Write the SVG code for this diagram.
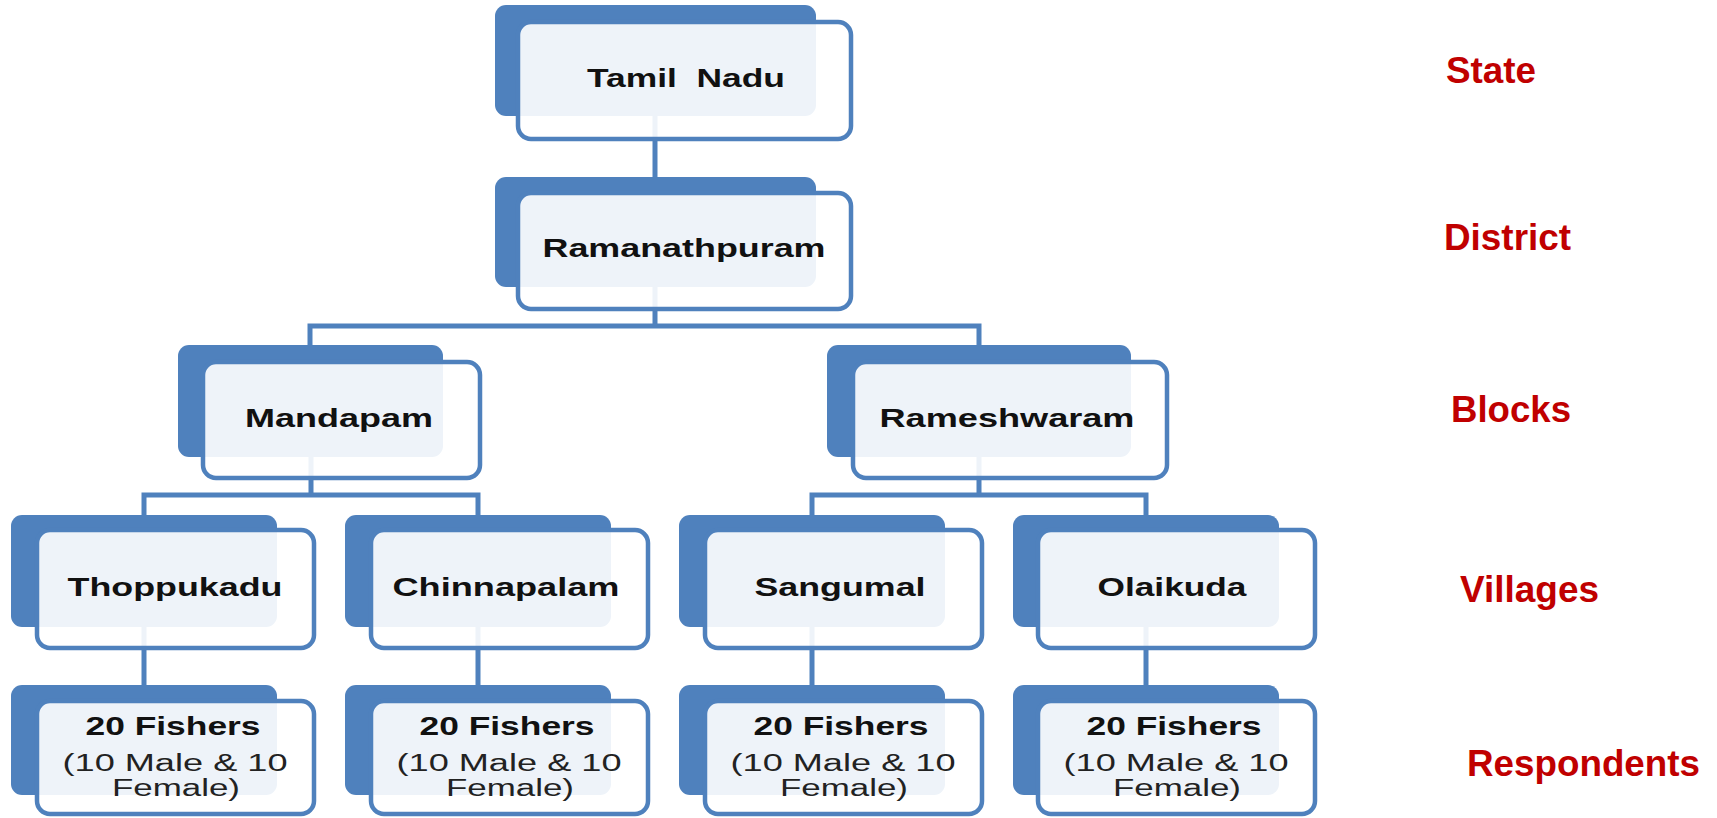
<svg xmlns="http://www.w3.org/2000/svg" width="1717" height="818" viewBox="0 0 1717 818">
<style>
.back{fill:#4F81BD}
.front{fill:#fff;fill-opacity:0.9;stroke:#4F81BD;stroke-width:4.5}
.conn{fill:none;stroke:#4F81BD;stroke-width:5}
.t{font-family:"Liberation Sans",Arial,sans-serif;font-weight:bold;font-size:26px;fill:#111;text-anchor:middle;white-space:pre}
.rb{font-family:"Liberation Sans",Arial,sans-serif;font-weight:bold;font-size:25px;fill:#111;text-anchor:middle}
.rn{font-family:"Liberation Sans",Arial,sans-serif;font-size:23px;fill:#222;text-anchor:middle}
.lab{font-family:"Liberation Sans",Arial,sans-serif;font-weight:bold;font-size:37px;fill:#C00000}
</style>
<rect width="1717" height="818" fill="#fff"/>
<g id="connectors">
<path class="conn" d="M655 110 V177"/>
<path class="conn" d="M655 280 V326 M310 345 V326 H979 V345"/>
<path class="conn" d="M311 450 V495 M144 515 V495 H478 V515"/>
<path class="conn" d="M979 450 V495 M812 515 V495 H1146 V515"/>
<path class="conn" d="M144 620 V685 M478 620 V685 M812 620 V685 M1146 620 V685"/>
</g>
<g id="n-tamilnadu">
<rect class="back" x="495" y="5" width="321" height="111" rx="11"/>
<rect class="front" x="518" y="22" width="333" height="117" rx="13"/>
<text class="t" x="686" y="87" textLength="198" lengthAdjust="spacingAndGlyphs" xml:space="preserve">Tamil  Nadu</text>
</g>
<g id="n-ramanathpuram">
<rect class="back" x="495" y="177" width="321" height="110" rx="11"/>
<rect class="front" x="518" y="193" width="333" height="116" rx="13"/>
<text class="t" x="684" y="257" textLength="283" lengthAdjust="spacingAndGlyphs">Ramanathpuram</text>
</g>
<g id="n-mandapam">
<rect class="back" x="178" y="345" width="265" height="112" rx="11"/>
<rect class="front" x="203" y="362" width="277" height="116" rx="13"/>
<text class="t" x="339" y="427" textLength="188" lengthAdjust="spacingAndGlyphs">Mandapam</text>
</g>
<g id="n-rameshwaram">
<rect class="back" x="827" y="345" width="304" height="112" rx="11"/>
<rect class="front" x="853" y="362" width="314" height="116" rx="13"/>
<text class="t" x="1007" y="427" textLength="255" lengthAdjust="spacingAndGlyphs">Rameshwaram</text>
</g>
<g id="n-thoppukadu">
<rect class="back" x="11" y="515" width="266" height="112" rx="11"/>
<rect class="front" x="37" y="530" width="277" height="118" rx="13"/>
<text class="t" x="175" y="596" textLength="215" lengthAdjust="spacingAndGlyphs">Thoppukadu</text>
</g>
<g id="n-chinnapalam">
<rect class="back" x="345" y="515" width="266" height="112" rx="11"/>
<rect class="front" x="371" y="530" width="277" height="118" rx="13"/>
<text class="t" x="506" y="596" textLength="227" lengthAdjust="spacingAndGlyphs">Chinnapalam</text>
</g>
<g id="n-sangumal">
<rect class="back" x="679" y="515" width="266" height="112" rx="11"/>
<rect class="front" x="705" y="530" width="277" height="118" rx="13"/>
<text class="t" x="840" y="596" textLength="171" lengthAdjust="spacingAndGlyphs">Sangumal</text>
</g>
<g id="n-olaikuda">
<rect class="back" x="1013" y="515" width="266" height="112" rx="11"/>
<rect class="front" x="1038" y="530" width="277" height="118" rx="13"/>
<text class="t" x="1172" y="596" textLength="149" lengthAdjust="spacingAndGlyphs">Olaikuda</text>
</g>
<g id="n-resp1">
<rect class="back" x="11" y="685" width="266" height="110" rx="11"/>
<rect class="front" x="37" y="701" width="277" height="113" rx="13"/>
<text class="rb" x="173" y="735" textLength="175" lengthAdjust="spacingAndGlyphs">20 Fishers</text>
<text class="rn" x="175" y="771" textLength="225" lengthAdjust="spacingAndGlyphs">(10 Male &amp; 10</text>
<text class="rn" x="176" y="796" textLength="128" lengthAdjust="spacingAndGlyphs">Female)</text>
</g>
<g id="n-resp2">
<rect class="back" x="345" y="685" width="266" height="110" rx="11"/>
<rect class="front" x="371" y="701" width="277" height="113" rx="13"/>
<text class="rb" x="507" y="735" textLength="175" lengthAdjust="spacingAndGlyphs">20 Fishers</text>
<text class="rn" x="509" y="771" textLength="225" lengthAdjust="spacingAndGlyphs">(10 Male &amp; 10</text>
<text class="rn" x="510" y="796" textLength="128" lengthAdjust="spacingAndGlyphs">Female)</text>
</g>
<g id="n-resp3">
<rect class="back" x="679" y="685" width="266" height="110" rx="11"/>
<rect class="front" x="705" y="701" width="277" height="113" rx="13"/>
<text class="rb" x="841" y="735" textLength="175" lengthAdjust="spacingAndGlyphs">20 Fishers</text>
<text class="rn" x="843" y="771" textLength="225" lengthAdjust="spacingAndGlyphs">(10 Male &amp; 10</text>
<text class="rn" x="844" y="796" textLength="128" lengthAdjust="spacingAndGlyphs">Female)</text>
</g>
<g id="n-resp4">
<rect class="back" x="1013" y="685" width="266" height="110" rx="11"/>
<rect class="front" x="1038" y="701" width="277" height="113" rx="13"/>
<text class="rb" x="1174" y="735" textLength="175" lengthAdjust="spacingAndGlyphs">20 Fishers</text>
<text class="rn" x="1176" y="771" textLength="225" lengthAdjust="spacingAndGlyphs">(10 Male &amp; 10</text>
<text class="rn" x="1177" y="796" textLength="128" lengthAdjust="spacingAndGlyphs">Female)</text>
</g>
<g id="levels">
<text class="lab" x="1446" y="83" textLength="90" lengthAdjust="spacingAndGlyphs">State</text>
<text class="lab" x="1444" y="250" textLength="127" lengthAdjust="spacingAndGlyphs">District</text>
<text class="lab" x="1451" y="422" textLength="120" lengthAdjust="spacingAndGlyphs">Blocks</text>
<text class="lab" x="1460" y="602" textLength="139" lengthAdjust="spacingAndGlyphs">Villages</text>
<text class="lab" x="1467" y="776" textLength="233" lengthAdjust="spacingAndGlyphs">Respondents</text>
</g>
</svg>
